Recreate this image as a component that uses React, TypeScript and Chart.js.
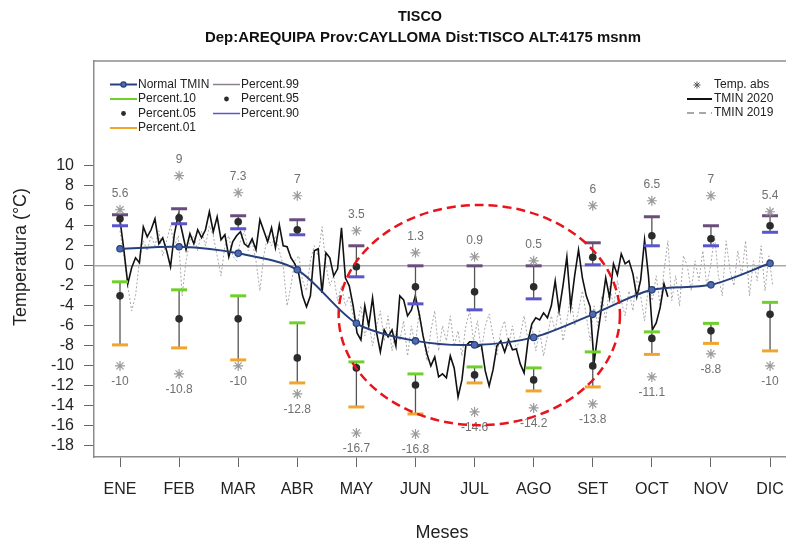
import React, { useEffect, useRef } from "react";
import { Chart, registerables } from "chart.js";

Chart.register(...registerables);

// ---- data -------------------------------------------------------------
const MONTHS = ["ENE", "FEB", "MAR", "ABR", "MAY", "JUN", "JUL", "AGO", "SET", "OCT", "NOV", "DIC"];
const Y_TICKS = [10, 8, 6, 4, 2, 0, -2, -4, -6, -8, -10, -12, -14, -16, -18];

const NORMAL_TMIN = [1.7, 1.9, 1.25, -0.4, -5.75, -7.5, -7.9, -7.15, -4.85, -2.4, -1.9, 0.25];
const PERCENT_99 = [5.1, 5.7, 5.0, 4.6, 2.0, 0.0, 0.0, 0.0, 2.3, 4.9, 4.0, 5.0];
const PERCENT_95 = [4.7, 4.8, 4.4, 3.6, -0.1, -2.1, -2.6, -2.1, 0.85, 3.0, 2.7, 4.0];
const PERCENT_90 = [4.0, 4.2, 3.7, 3.1, -1.1, -3.8, -4.4, -3.3, 0.1, 2.0, 2.0, 3.35];
const PERCENT_10 = [-1.6, -2.4, -3.0, -5.7, -9.6, -10.8, -10.1, -10.2, -8.6, -6.6, -5.75, -3.65];
const PERCENT_05 = [-3.0, -5.3, -5.3, -9.2, -10.2, -11.9, -10.9, -11.4, -10.0, -7.25, -6.5, -4.85];
const PERCENT_01 = [-7.9, -8.2, -9.4, -11.7, -14.1, -14.8, -11.7, -12.5, -12.1, -8.85, -7.75, -8.5];
const ABS_MAX = [5.6, 9, 7.3, 7, 3.5, 1.3, 0.9, 0.5, 6, 6.5, 7, 5.4];
const ABS_MIN = [-10, -10.8, -10, -12.8, -16.7, -16.8, -14.6, -14.2, -13.8, -11.1, -8.8, -10];

// daily minimum temperature, one reading every STEP_DAYS days from 1 January
const STEP_DAYS = 2;
const DAYS_PER_MONTH = 365 / 12;

const TMIN_2020 = [
  4.6, 1.6, -1.8, -0.2, 0.8, 0.3, 3.9, 2.9, 3.6, 4.7,
  2.2, 2.8, 1.5, -0.1, 3.2, 5.1, 3.4, 1.6, 3.2, 2.2,
  3.6, 2.8, 3.6, 5.4, 3.4, 4.9, 2.6, 3.1, 0.9, 2.4,
  3.0, 3.4, 2.2, 1.9, 2.7, 1.6, 4.6, 3.5, 2.4, 3.8,
  1.8, 4.1, 2.0, 1.9, 0.8, 0.2, -0.8, -3.0, -4.1, -3.0,
  1.5, 1.7, -2.7, 1.3, 0.8, -1.0, -0.3, 3.8, -1.2, -2.0,
  -4.0, -6.7, -7.4, -4.0, -6.0, -3.2, -6.6, -8.6, -6.4, -7.1,
  -6.4, -8.0, -3.0, -3.4, -5.0, -4.4, -3.0, -4.8, -7.0, -8.8,
  -10.0, -9.1, -11.1, -10.8, -11.2, -9.0, -10.2, -13.1, -11.4, -8.0,
  -7.6, -7.6, -8.1, -7.9, -10.5, -12.0, -10.4, -8.0, -7.5, -8.6,
  -7.4, -8.4, -8.3, -9.8, -10.7, -7.5, -5.8, -5.2, -5.4, -4.7,
  -5.2, -4.0, -1.5, -4.5, -2.0, 0.9, -4.1, -1.0, 1.6, -1.2,
  -3.0, -4.1, -9.7, -6.7, -4.0, -1.2, -3.2, 0.2, -0.9, 1.2,
  0.2, 0.5, -0.8, -3.1, -1.4, 2.6, -1.0, -6.4, -5.7, -4.2,
  -1.8, -3.1,
];

const TMIN_2019 = [
  3.5, 1.0, -2.0, -4.5, -3.0, 0.5, 2.5, 1.5, 3.0, 2.0, 3.5, 1.0, 2.5, 4.0, 2.0, 3.0,
  -3.0, 0.5, 2.5, 3.0, 1.5, 3.5, 2.0, 4.0, 3.0, 1.0, -1.0, 2.0, 3.0, 1.0, 0.5,
  2.5, 3.5, 1.5, 2.5, 0.5, -2.5, 1.0, 3.0, 2.0, 3.0, 1.5, 0.0, -4.0, -2.0, 0.5,
  1.0, -1.5, -2.5, 0.5, 2.0, 1.0, 3.9, 0.0, -2.0, -1.0, -3.5, -2.0, -4.0, -3.0, -5.0,
  -6.0, -4.0, -7.0, -5.5, -8.0, -6.0, -4.5, -7.5, -5.0, -8.5, -6.5, -7.5, -5.5, -9.0, -6.0, -8.0,
  -4.5, -7.0, -9.5, -6.5, -4.5, -8.5, -6.0, -7.5, -5.0, -8.0, -6.5, -9.0, -6.0, -4.5, -7.5,
  -5.5, -8.5, -6.0, -4.8, -7.0, -9.0, -6.5, -5.5, -8.0, -6.0, -8.5, -7.0, -5.0, -7.5, -6.0, -8.5,
  -6.5, -9.0, -7.0, -5.0, -6.5, -4.0, -7.5, -5.5, -3.0, -6.0, -4.5, -2.5, -5.0, -7.5, -4.0,
  -6.0, -3.0, -5.5, -2.0, -4.0, -1.5, -3.5, -5.0, -2.5, -4.5, -1.0, -3.0, -5.5, -2.0, -3.5,
  -1.0, -4.0, -0.5, 2.5, -3.5, -1.0, -4.0, 1.0, 0.0, -2.5, 0.5, -1.5, 1.5, -2.0, 0.0,
  3.0, -1.0, -3.0, 2.5, -0.5, -2.0, 1.5, -1.0, 2.5, -3.0, 0.5, -1.5, 2.0, -2.5, 1.0, -2.0,
];

// highlighted cold-season region (month units, °C)
const HIGHLIGHT = { month: 7.08, temp: -4.92, halfMonths: 2.38, halfTemp: 11.0 };

// ---- style ------------------------------------------------------------
const FONT = "'Liberation Sans', Arial, Helvetica, sans-serif";
const C = {
  normal: "#27407d",
  normalFill: "#4d6ab0",
  p99: "#6a4d7c",
  p90: "#5a55cc",
  p10: "#6fd02c",
  p01: "#f2a52c",
  dot: "#2b2b2b",
  whisker: "#555555",
  star: "#9a9a9a",
  starText: "#707070",
  t2020: "#111111",
  t2019: "#a8a8a8",
  frame: "#8c8c8c",
  text: "#222222",
};

const daily = (vals: number[]) =>
  vals.map((v, i) => ({ x: 1 + (i * STEP_DAYS) / DAYS_PER_MONTH, y: v }));
const monthly = (vals: number[]) => vals.map((v, i) => ({ x: i + 1, y: v }));
const whiskers = (hi: number[], lo: number[]) =>
  hi.flatMap((v, i) => [
    { x: i + 1, y: v },
    { x: i + 1, y: lo[i] },
    { x: i + 1, y: null as any },
  ]);

const decorPlugin = {
  id: "decor",
  beforeDatasetsDraw(chart: any) {
    const { ctx, chartArea: a, scales } = chart;
    const y0 = scales.y.getPixelForValue(0);
    ctx.save();
    ctx.strokeStyle = "#a8a8a8";
    ctx.lineWidth = 1.5;
    ctx.beginPath();
    ctx.moveTo(a.left, y0);
    ctx.lineTo(a.right, y0);
    ctx.stroke();
    // top edge of the plot frame
    ctx.strokeStyle = C.frame;
    ctx.beginPath();
    ctx.moveTo(a.left, a.top);
    ctx.lineTo(a.right, a.top);
    ctx.stroke();
    ctx.restore();
  },
  afterDatasetsDraw(chart: any) {
    const { ctx, scales } = chart;
    const xs = scales.x;
    const ys = scales.y;
    ctx.save();

    // absolute extreme labels
    ctx.font = `12px ${FONT}`;
    ctx.fillStyle = C.starText;
    ctx.textAlign = "center";
    ctx.textBaseline = "middle";
    ABS_MAX.forEach((v, i) => {
      ctx.fillText(String(v), xs.getPixelForValue(i + 1), ys.getPixelForValue(v) - 16);
    });
    ABS_MIN.forEach((v, i) => {
      ctx.fillText(String(v), xs.getPixelForValue(i + 1), ys.getPixelForValue(v) + 16);
    });

    // month names under the x tick marks
    ctx.fillStyle = C.text;
    ctx.font = `16px ${FONT}`;
    MONTHS.forEach((m, i) => {
      ctx.fillText(m, xs.getPixelForValue(i + 1), 490);
    });

    // dashed ellipse
    const cx = xs.getPixelForValue(HIGHLIGHT.month);
    const cy = ys.getPixelForValue(HIGHLIGHT.temp);
    const rx = xs.getPixelForValue(HIGHLIGHT.month + HIGHLIGHT.halfMonths) - cx;
    const ry = ys.getPixelForValue(HIGHLIGHT.temp - HIGHLIGHT.halfTemp) - cy;
    ctx.strokeStyle = "#e8141c";
    ctx.lineWidth = 2.5;
    ctx.setLineDash([9, 5]);
    ctx.beginPath();
    ctx.ellipse(cx, cy, rx, ry, 0, 0, Math.PI * 2);
    ctx.stroke();
    ctx.setLineDash([]);

    // legends
    ctx.font = `12px ${FONT}`;
    ctx.textAlign = "left";
    ctx.textBaseline = "middle";
    const rows = [84.5, 99, 113.5, 128];
    const seg = (x1: number, x2: number, y: number, color: string, w = 2, dash: number[] = []) => {
      ctx.strokeStyle = color;
      ctx.lineWidth = w;
      ctx.setLineDash(dash);
      ctx.beginPath();
      ctx.moveTo(x1, y);
      ctx.lineTo(x2, y);
      ctx.stroke();
      ctx.setLineDash([]);
    };
    const dot = (x: number, y: number, r: number, fill: string, stroke?: string) => {
      ctx.beginPath();
      ctx.arc(x, y, r, 0, Math.PI * 2);
      ctx.fillStyle = fill;
      ctx.fill();
      if (stroke) {
        ctx.strokeStyle = stroke;
        ctx.lineWidth = 1.2;
        ctx.stroke();
      }
    };
    const label = (t: string, x: number, y: number) => {
      ctx.fillStyle = C.text;
      ctx.fillText(t, x, y);
    };
    // column 1
    seg(110, 137, rows[0], C.normal, 2);
    dot(123.5, rows[0], 2.6, C.normalFill, C.normal);
    label("Normal TMIN", 138, rows[0]);
    seg(110, 137, rows[1], C.p10, 2);
    label("Percent.10", 138, rows[1]);
    dot(123.5, rows[2], 2.4, C.dot);
    label("Percent.05", 138, rows[2]);
    seg(110, 137, rows[3], C.p01, 2);
    label("Percent.01", 138, rows[3]);
    // column 2
    seg(213, 240, rows[0], "#8a8090", 1.5);
    label("Percent.99", 241, rows[0]);
    dot(226.5, rows[1], 2.4, C.dot);
    label("Percent.95", 241, rows[1]);
    seg(213, 240, rows[2], C.p90, 1.5);
    label("Percent.90", 241, rows[2]);
    // right block
    const sx = 697;
    const sy = 85;
    ctx.strokeStyle = "#555";
    ctx.lineWidth = 1;
    ctx.beginPath();
    for (let k = 0; k < 4; k++) {
      const ang = (k * Math.PI) / 4;
      ctx.moveTo(sx - 3.5 * Math.cos(ang), sy - 3.5 * Math.sin(ang));
      ctx.lineTo(sx + 3.5 * Math.cos(ang), sy + 3.5 * Math.sin(ang));
    }
    ctx.stroke();
    label("Temp. abs", 714, 85);
    seg(687, 712, 99, C.t2020, 2);
    label("TMIN 2020", 714, 99);
    seg(687, 712, 113, "#8a8a8a", 1.5, [7, 5]);
    label("TMIN 2019", 714, 113);

    ctx.restore();
  },
  afterDraw(chart: any) {
    const { ctx } = chart;
    ctx.save();
    ctx.fillStyle = "#111";
    ctx.textAlign = "center";
    ctx.textBaseline = "middle";
    ctx.font = `bold 15px ${FONT}`;
    ctx.fillText("TISCO", 420, 17, 44);
    ctx.fillText("Dep:AREQUIPA Prov:CAYLLOMA Dist:TISCO ALT:4175 msnm", 423, 38, 436);

    ctx.fillStyle = C.text;
    ctx.font = `18px ${FONT}`;
    ctx.fillText("Meses", 442, 533);
    ctx.translate(21, 257);
    ctx.rotate(-Math.PI / 2);
    ctx.fillText("Temperatura (°C)", 0, 0, 146);
    ctx.restore();
  },
};

export default function App() {
  const ref = useRef<HTMLCanvasElement>(null);

  useEffect(() => {
    const canvas = ref.current;
    if (!canvas) return;

    const capSet = (vals: number[], color: string, order: number) => ({
      data: monthly(vals),
      showLine: false,
      pointStyle: "line",
      pointRadius: 8,
      pointBorderWidth: 3,
      pointBorderColor: color,
      pointBackgroundColor: color,
      borderColor: color,
      clip: 12,
      order,
    });
    const dotSet = (vals: number[]) => ({
      data: monthly(vals),
      showLine: false,
      pointRadius: 3.8,
      pointBorderWidth: 0,
      pointBackgroundColor: C.dot,
      pointBorderColor: C.dot,
      order: 2,
    });

    const chart = new Chart(canvas, {
      type: "line",
      data: {
        datasets: [
          {
            label: "TMIN 2019",
            data: daily(TMIN_2019),
            borderColor: C.t2019,
            borderWidth: 1,
            borderDash: [2, 2],
            pointRadius: 0,
            order: 8,
          },
          {
            label: "TMIN 2020",
            data: daily(TMIN_2020),
            borderColor: C.t2020,
            borderWidth: 1.6,
            pointRadius: 0,
            order: 7,
          },
          {
            label: "Normal TMIN",
            data: monthly(NORMAL_TMIN),
            borderColor: C.normal,
            borderWidth: 2,
            tension: 0.3,
            pointRadius: 3.2,
            pointBorderWidth: 1.2,
            pointBackgroundColor: C.normalFill,
            pointBorderColor: C.normal,
            clip: 12,
            order: 6,
          },
          {
            label: "upper",
            data: whiskers(PERCENT_99, PERCENT_90),
            borderColor: C.whisker,
            borderWidth: 1.3,
            pointRadius: 0,
            spanGaps: false,
            order: 5,
          },
          {
            label: "lower",
            data: whiskers(PERCENT_10, PERCENT_01),
            borderColor: C.whisker,
            borderWidth: 1.3,
            pointRadius: 0,
            spanGaps: false,
            order: 5,
          },
          { label: "Percent.99", ...capSet(PERCENT_99, C.p99, 3) },
          { label: "Percent.90", ...capSet(PERCENT_90, C.p90, 3) },
          { label: "Percent.10", ...capSet(PERCENT_10, C.p10, 3) },
          { label: "Percent.01", ...capSet(PERCENT_01, C.p01, 3) },
          { label: "Percent.95", ...dotSet(PERCENT_95) },
          { label: "Percent.05", ...dotSet(PERCENT_05) },
          {
            label: "Temp. abs max",
            data: monthly(ABS_MAX),
            showLine: false,
            pointStyle: "star",
            pointRadius: 5,
            pointBorderWidth: 1.2,
            pointBorderColor: C.star,
            order: 1,
          },
          {
            label: "Temp. abs min",
            data: monthly(ABS_MIN),
            showLine: false,
            pointStyle: "star",
            pointRadius: 5,
            pointBorderWidth: 1.2,
            pointBorderColor: C.star,
            order: 1,
          },
        ] as any,
      },
      options: {
        responsive: false,
        devicePixelRatio: 1,
        animation: false,
        events: [],
        layout: { autoPadding: false, padding: { top: 61, left: 0, right: 0, bottom: 0 } },
        plugins: {
          legend: { display: false },
          title: { display: false },
          tooltip: { enabled: false },
        },
        scales: {
          x: {
            type: "linear",
            min: 0.56,
            max: 12.27,
            afterBuildTicks: (s: any) => {
              s.ticks = MONTHS.map((_, i) => ({ value: i + 1 }));
            },
            afterFit: (s: any) => {
              s.height = 86;
            },
            ticks: { display: false },
            grid: {
              drawOnChartArea: false,
              drawTicks: true,
              tickLength: 10,
              color: "#666",
              lineWidth: 1,
            },
            border: { display: true, color: C.frame, width: 1.5 },
          },
          y: {
            type: "linear",
            min: -19.1,
            max: 20.46,
            afterBuildTicks: (s: any) => {
              s.ticks = Y_TICKS.map((v) => ({ value: v }));
            },
            afterFit: (s: any) => {
              s.width = 94;
              s.paddingTop = 0;
              s.paddingBottom = 0;
            },
            ticks: {
              padding: 10,
              color: C.text,
              font: { family: FONT, size: 16 },
              callback: (v: any) => String(v),
            },
            grid: {
              drawOnChartArea: false,
              drawTicks: true,
              tickLength: 10,
              color: "#666",
              lineWidth: 1,
            },
            border: { display: true, color: C.frame, width: 1.5 },
          },
        },
      } as any,
      plugins: [decorPlugin as any],
    });

    return () => chart.destroy();
  }, []);

  return (
    <canvas
      ref={ref}
      width={786}
      height={543}
      style={{ position: "absolute", left: 0, top: 0, display: "block", background: "#fff" }}
    />
  );
}
